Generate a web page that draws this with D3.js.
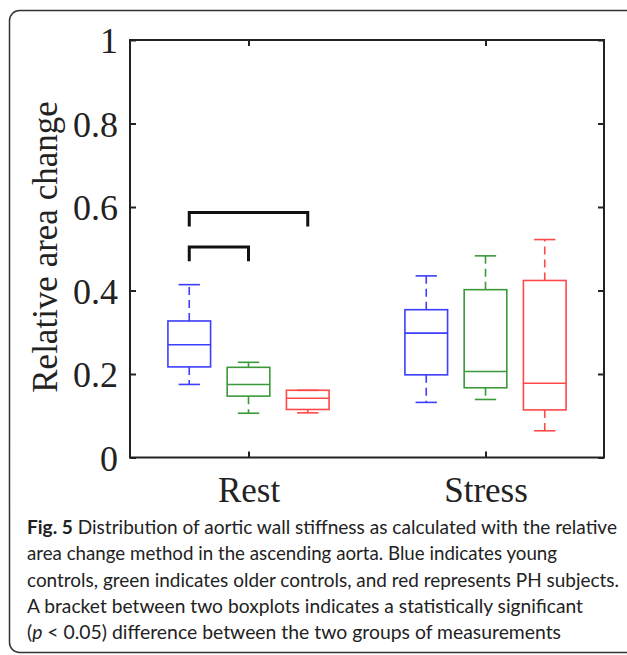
<!DOCTYPE html>
<meta charset="utf-8">
<script src="https://cdn.jsdelivr.net/npm/d3@7"></script>
<body style="margin:0;background:#fff">
<div id="fig"></div>
</body>
<style>
body { font-family: "Liberation Serif", serif; }
.tick text { font-family: "Liberation Serif", serif; }
.caption { font-family: Lato, "Open Sans", sans-serif; fill: #222; }
</style>
<script>

// data
var conditions = ["Rest", "Stress"],
    groups = ["young", "older", "PH"],
    groupColors = ["#3d3dff", "#3a9a3a", "#ff4848"],
    yTicks = [0, 0.2, 0.4, 0.6, 0.8, 1];

// [lower whisker, q1, median, q3, upper whisker] per condition, per group
var restStats = [
  [0.175, 0.217, 0.270, 0.327, 0.414],
  [0.106, 0.147, 0.175, 0.216, 0.228],
  [0.107, 0.115, 0.142, 0.161, 0.161]
];
var stressStats = [
  [0.132, 0.198, 0.298, 0.354, 0.435],
  [0.139, 0.167, 0.206, 0.402, 0.483],
  [0.064, 0.114, 0.178, 0.424, 0.522]
];

// significance brackets: [condition, group a, group b, height]
var brackets = [
  ["Rest", 0, 1, 0.504],
  ["Rest", 0, 2, 0.587]
];

var captionLines = [
  [["Fig. 5", "bold"], [" Distribution of aortic wall stiffness as calculated with the relative", "normal"]],
  [["area change method in the ascending aorta. Blue indicates young", "normal"]],
  [["controls, green indicates older controls, and red represents PH subjects.", "normal"]],
  [["A bracket between two boxplots indicates a statistically significant", "normal"]],
  [["(", "normal"], ["p", "italic"], [" < 0.05) difference between the two groups of measurements", "normal"]]
];
// right end of each caption line in the figure
var captionEnds = [617, 557, 619, 583, 561];

var W = 627, H = 655;
var margin = {left: 130, top: 40, right: 23, bottom: 198};

var svg = d3.select("#fig").append("svg")
  .attr("width", W)
  .attr("height", H);

// outer frame
svg.append("rect")
  .attr("x", 9.5).attr("y", 10.5)
  .attr("width", 630).attr("height", 642)
  .attr("rx", 10).attr("ry", 10)
  .attr("fill", "none")
  .attr("stroke", "#333")
  .attr("stroke-width", 1.5);

var x = d3.scaleLinear().domain([0.5, 2.5]).range([margin.left, W - margin.right]);
var y = d3.scaleLinear().domain([0, 1]).range([H - margin.bottom + 0.5, margin.top]);

var g = svg.append("g");

// axes with inward ticks on all sides
var tickLen = 6;
g.append("g")
  .attr("transform", "translate(" + margin.left + ",0)")
  .call(d3.axisLeft(y).tickValues(yTicks).tickSizeInner(-tickLen).tickSizeOuter(0)
    .tickFormat(function(d) { return d === 0 || d === 1 ? d : d3.format(".1f")(d); }))
  .call(function(a) {
    a.selectAll("text").attr("x", -12).attr("font-size", 36).attr("fill", "#222").attr("dy", "0.36em");
  });
g.append("g")
  .attr("transform", "translate(" + (W - margin.right) + ",0)")
  .call(d3.axisRight(y).tickValues(yTicks).tickSizeInner(-tickLen).tickSizeOuter(0).tickFormat(""));
g.append("g")
  .attr("transform", "translate(0," + y(0) + ")")
  .call(d3.axisBottom(x).tickValues([1, 2]).tickSizeInner(-tickLen).tickSizeOuter(0)
    .tickFormat(function(d) { return conditions[d - 1]; }))
  .call(function(a) {
    a.selectAll("text").attr("y", 44).attr("dy", 0).attr("font-size", 35).attr("fill", "#222");
  });
g.append("g")
  .attr("transform", "translate(0," + margin.top + ")")
  .call(d3.axisTop(x).tickValues([1, 2]).tickSizeInner(-tickLen).tickSizeOuter(0).tickFormat(""));

g.selectAll(".domain").remove();
g.selectAll(".tick line").attr("stroke", "#222").attr("stroke-width", 2);

g.append("rect")
  .attr("x", x(0.5)).attr("y", y(1))
  .attr("width", x(2.5) - x(0.5)).attr("height", y(0) - y(1))
  .attr("fill", "none")
  .attr("stroke", "#222")
  .attr("stroke-width", 2);

// y title
svg.append("text")
  .attr("transform", "translate(57," + 247 + ") rotate(-90)")
  .attr("text-anchor", "middle")
  .attr("font-size", 35)
  .attr("fill", "#222")
  .text("Relative area change");

// boxplots
var offset = 0.25, boxW = 0.18, capW = 0.09;
var allStats = [restStats, stressStats];

allStats.forEach(function(stats, ci) {
  stats.forEach(function(s, gi) {
    var cx = ci + 1 + (gi - 1) * offset;
    var col = groupColors[gi];
    var bg = g.append("g").attr("stroke", col).attr("stroke-width", 1.6).attr("fill", "none");
    // whiskers
    bg.append("line")
      .attr("x1", x(cx)).attr("x2", x(cx))
      .attr("y1", y(s[3])).attr("y2", y(s[4]))
      .attr("stroke-dasharray", "8,5");
    bg.append("line")
      .attr("x1", x(cx)).attr("x2", x(cx))
      .attr("y1", y(s[1])).attr("y2", y(s[0]))
      .attr("stroke-dasharray", "8,5");
    // caps
    [s[0], s[4]].forEach(function(v) {
      bg.append("line")
        .attr("x1", x(cx - capW / 2)).attr("x2", x(cx + capW / 2))
        .attr("y1", y(v)).attr("y2", y(v));
    });
    // box
    bg.append("rect")
      .attr("x", x(cx - boxW / 2)).attr("y", y(s[3]))
      .attr("width", x(cx + boxW / 2) - x(cx - boxW / 2))
      .attr("height", y(s[1]) - y(s[3]));
    // median
    bg.append("line")
      .attr("x1", x(cx - boxW / 2)).attr("x2", x(cx + boxW / 2))
      .attr("y1", y(s[2])).attr("y2", y(s[2]));
  });
});

// brackets
var legDrop = 0.034;
g.selectAll(".bracket")
  .data(brackets)
  .enter().append("path")
  .attr("class", "bracket")
  .attr("fill", "none")
  .attr("stroke", "#111")
  .attr("stroke-width", 3)
  .attr("d", function(b) {
    var ci = conditions.indexOf(b[0]) + 1;
    var xa = x(ci + (b[1] - 1) * offset), xb = x(ci + (b[2] - 1) * offset);
    return "M" + xa + "," + y(b[3] - legDrop) + "V" + y(b[3]) + "H" + xb + "V" + y(b[3] - legDrop);
  });

// caption, one text per line stretched to the figure's line width
captionLines.forEach(function(line, i) {
  var t = svg.append("text")
    .attr("class", "caption")
    .attr("font-size", 19)
    .attr("x", 27)
    .attr("y", 534 + i * 26.3)
    .attr("textLength", captionEnds[i] - 27)
    .attr("lengthAdjust", "spacingAndGlyphs");
  line.forEach(function(part) {
    var sp = t.append("tspan").text(part[0]);
    if (part[1] === "bold") sp.attr("font-weight", "bold");
    if (part[1] === "italic") sp.attr("font-style", "italic");
  });
});

</script>
